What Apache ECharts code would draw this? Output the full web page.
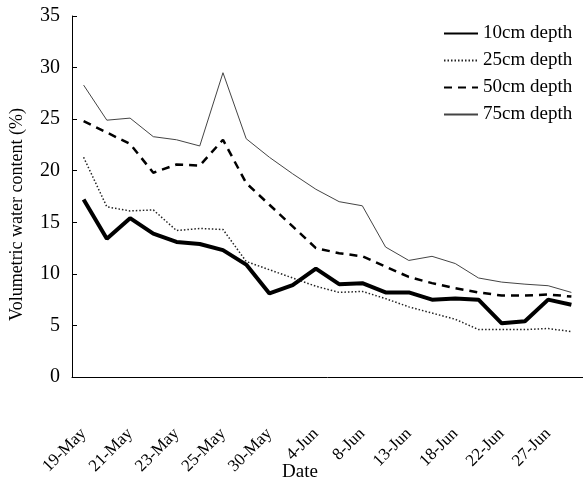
<!DOCTYPE html>
<html>
<head>
<meta charset="utf-8">
<script src="https://cdn.jsdelivr.net/npm/echarts@6/dist/echarts.min.js"></script>
<style>
html,body{margin:0;padding:0;background:#fff;}
#chart{width:583px;height:482px;}
</style>
</head>
<body>
<div id="chart"></div>
<script>
// dates (only every other one is labelled on the axis)
var dates = ['19-May','20-May','21-May','22-May','23-May','24-May','25-May','27-May',
  '30-May','2-Jun','4-Jun','6-Jun','8-Jun','11-Jun','13-Jun','16-Jun',
  '18-Jun','20-Jun','22-Jun','25-Jun','27-Jun','29-Jun'];
var depth10 = [17.2,13.4,15.4,13.9,13.1,12.9,12.3,10.9,8.1,8.9,10.5,9.0,9.1,8.2,8.2,7.5,7.6,7.5,5.2,5.4,7.5,7.0];
var depth25 = [21.3,16.5,16.1,16.2,14.2,14.4,14.3,11.2,10.4,9.6,8.8,8.2,8.3,7.6,6.8,6.2,5.6,4.6,4.6,4.6,4.7,4.4];
var depth50 = [24.8,23.7,22.6,19.8,20.6,20.5,23.0,18.8,16.7,14.6,12.5,12.0,11.7,10.7,9.7,9.1,8.6,8.2,7.9,7.9,8.0,7.8];
var depth75 = [28.3,24.9,25.1,23.3,23.0,22.4,29.5,23.1,21.3,19.7,18.2,17.0,16.6,12.6,11.3,11.7,11.0,9.6,9.2,9.0,8.85,8.2];
var seriesNames = ['10cm depth','25cm depth','50cm depth','75cm depth'];

var font = 'Liberation Serif';
var chart = echarts.init(document.getElementById('chart'));
var option = {
  backgroundColor: '#fff',
  animation: false,
  textStyle: {fontFamily: font, color: '#000'},
  // x axis title kept as a plain title so it sits where the original has it
  title: {
    text: 'Date',
    left: 282,
    top: 463,
    padding: 0,
    textStyle: {fontFamily: font, fontSize: 19, fontWeight: 'normal', color: '#000'}
  },
  grid: {left: 72, right: 0, top: 16, bottom: 105, outerBoundsMode: 'none'},
  legend: {
    orient: 'vertical',
    left: 443,
    top: 24,
    padding: 0,
    itemWidth: 34,
    itemHeight: 14,
    itemGap: 8,
    itemStyle: {opacity: 0},
    textStyle: {fontFamily: font, fontSize: 19, color: '#000'},
    data: seriesNames
  },
  xAxis: {
    type: 'category',
    data: dates,
    boundaryGap: true,
    axisLine: {lineStyle: {color: '#000', width: 1}},
    axisTick: {inside: true, length: 5, interval: 0, lineStyle: {color: '#000'}},
    axisLabel: {interval: 1, rotate: 45, fontFamily: font, fontSize: 17, color: '#000', margin: 54},
    splitLine: {show: false}
  },
  yAxis: {
    type: 'value',
    min: 0,
    max: 35,
    interval: 5,
    name: 'Volumetric water content (%)',
    nameLocation: 'middle',
    nameGap: 46,
    nameTextStyle: {fontFamily: font, fontSize: 18, color: '#000', padding: [0, 36, 0, 0]},
    axisLine: {show: true, lineStyle: {color: '#000', width: 1}},
    axisTick: {show: true, inside: true, length: 5, lineStyle: {color: '#000'}},
    axisLabel: {fontFamily: font, fontSize: 20, color: '#000', margin: 12},
    splitLine: {show: false}
  },
  series: [
    {name: seriesNames[0], type: 'line', data: depth10, symbol: 'none',
     lineStyle: {color: '#000', width: 4}, itemStyle: {color: '#000'}},
    {name: seriesNames[1], type: 'line', data: depth25, symbol: 'none',
     lineStyle: {color: '#222', width: 1.5, type: [1.5, 2]}, itemStyle: {color: '#222'}},
    {name: seriesNames[2], type: 'line', data: depth50, symbol: 'none',
     lineStyle: {color: '#000', width: 2.5, type: [8, 6]}, itemStyle: {color: '#000'}},
    {name: seriesNames[3], type: 'line', data: depth75, symbol: 'none',
     lineStyle: {color: '#444', width: 1}, itemStyle: {color: '#444'}}
  ]
};
chart.setOption(option);
</script>
</body>
</html>
